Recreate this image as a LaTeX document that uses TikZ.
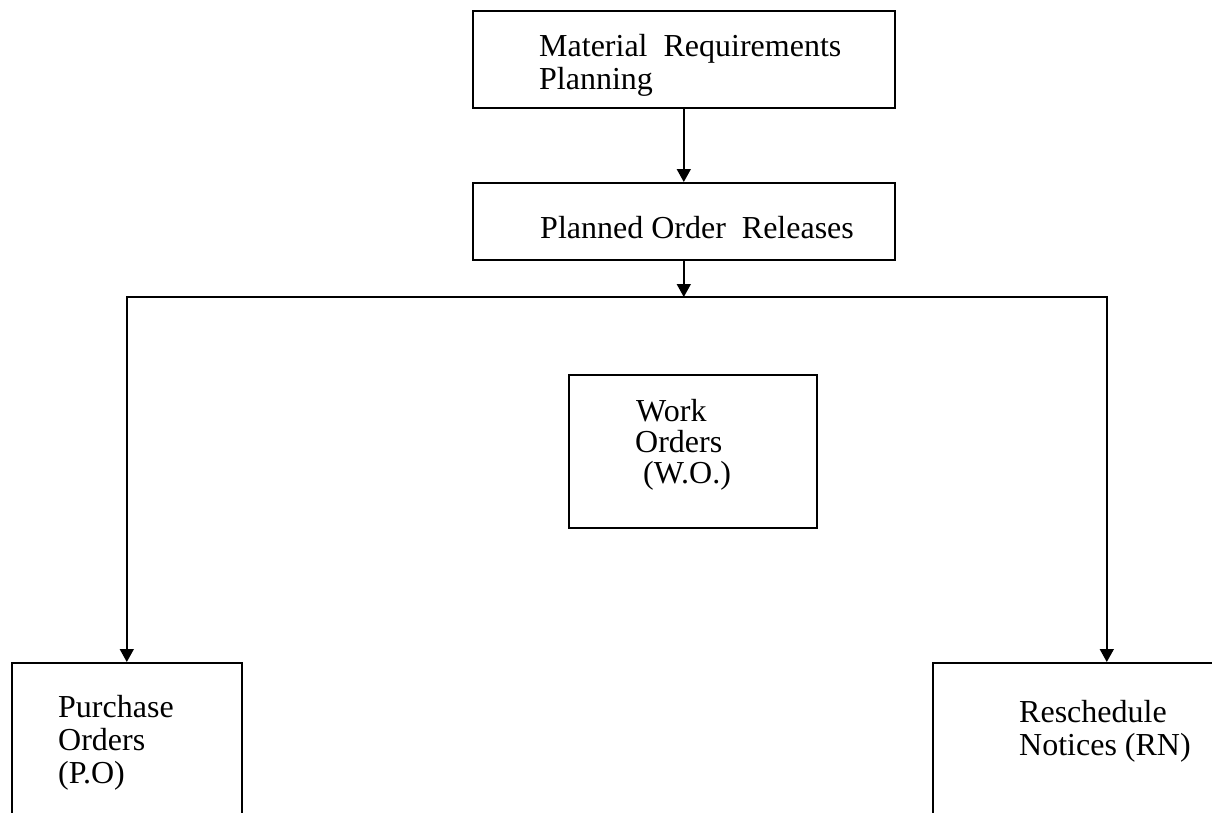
\documentclass[tikz,border=0pt]{standalone}
\usepackage{fontspec}
\setmainfont{Liberation Serif}
\usetikzlibrary{arrows.meta}
\begin{document}
\begin{tikzpicture}[x=1pt,y=-1pt,
  box/.style={draw,line width=1.6pt,rectangle,inner sep=0pt,anchor=north west},
  txt/.style={anchor=base west,inner sep=0pt,font=\fontsize{32}{32}\selectfont},
  arr/.style={line width=1.6pt,-{Triangle[width=14pt,length=13pt]}}]
\clip (0,0) rectangle (1212,812);
\fill[white] (0,0) rectangle (1212,812);
% boxes
\node[box,minimum width=422pt,minimum height=97pt] (mrp) at (472,10) {};
\node[box,minimum width=422pt,minimum height=77pt] (por) at (472,182) {};
\node[box,minimum width=248pt,minimum height=153pt] (wo) at (568,374) {};
\node[box,minimum width=230pt,minimum height=180pt] (po) at (11,662) {};
\node[box,minimum width=348pt,minimum height=180pt] (rn) at (932,662) {};
% texts
\node[txt] (t1) at (539,56) {Material\ \ Requirements};
\node[txt] (t2) at (539,89) {Planning};
\node[txt] (t3) at (540,238) {Planned Order\ \ Releases};
\node[txt] (t4) at (636,421) {Work};
\node[txt] (t5) at (635,452) {Orders};
\node[txt] (t6) at (643,483) {(W.O.)};
\node[txt] (t7) at (58,717) {Purchase};
\node[txt] (t8) at (58,750) {Orders};
\node[txt] (t9) at (58,783) {(P.O)};
\node[txt] (t10) at (1019,722) {Reschedule};
\node[txt] (t11) at (1019,755) {Notices (RN)};
% connectors
\coordinate (junc) at (por.south |- 0,297);
\draw[arr] (mrp.south) -- (por.north);
\draw[arr] (por.south) -- (junc);
\draw[arr] (junc) -| (po.north);
\draw[arr] (junc) -| (rn.north);
\end{tikzpicture}
\end{document}
